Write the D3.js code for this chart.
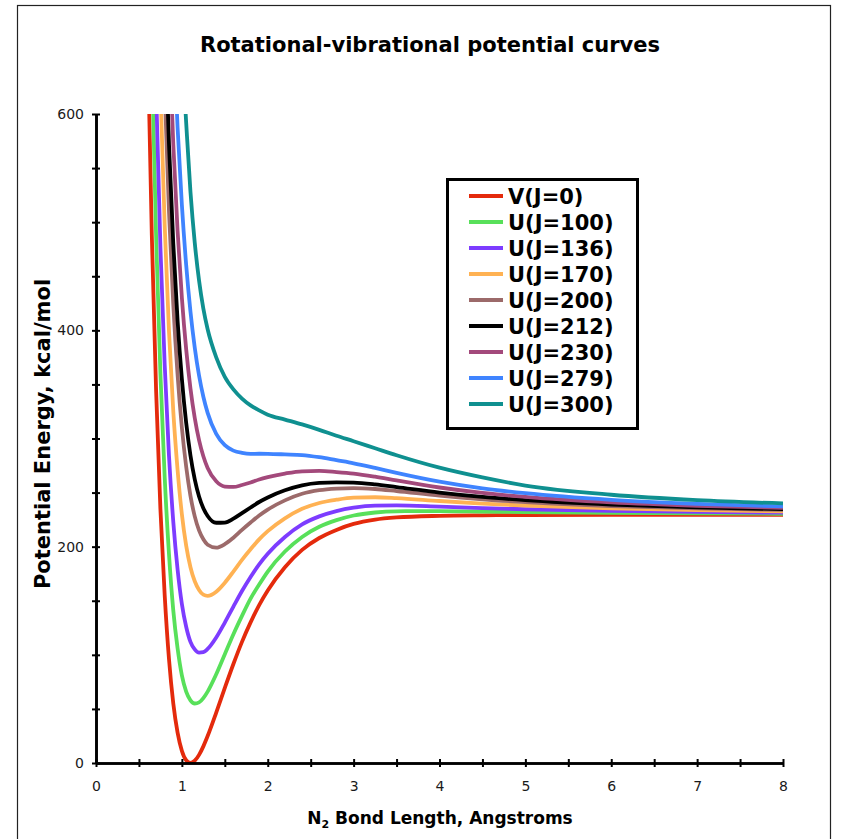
<!DOCTYPE html>
<html lang="en">
<head>
<meta charset="utf-8">
<title>Rotational-vibrational potential curves</title>
<script src="https://d3js.org/d3.v7.min.js"></script>
<style>
  body { margin: 0; background: #fff; }
  svg text { font-family: "DejaVu Sans", Verdana, sans-serif; }
</style>
</head>
<body>
<script>
// bond length grid (Angstroms)
var bondLength = [0.6, 0.65, 0.7, 0.75, 0.8, 0.85, 0.9, 0.95, 1.0, 1.05, 1.1, 1.15, 1.2, 1.25, 1.3,
                  1.4, 1.5, 1.6, 1.7, 1.8, 1.9, 2.0, 2.2, 2.4, 2.6, 2.8, 3.0, 3.25, 3.5, 4.0, 4.5, 5.0, 6.0, 7.0, 8.0];

// potential energy, kcal/mol (null = off the top of the chart)
var vJ0   = [676, 488, 344, 235, 155, 96, 55, 28, 11.2, 2.5, 0, 2.1, 7.5, 15.4, 24.9,
             46.6, 69.4, 91.5, 112, 130, 146, 159.5, 181, 197, 208, 215.5, 221, 225, 227, 228.5, 229, 229.2, 229.3, 229.3, 229.3];
var uJ100 = [null, 654, 487, 360, 264, 193, 141, 106, 81, 66, 58, 55, 56, 60, 66,
             82, 100.5, 119, 136, 152, 165, 177, 195.5, 209, 218.4, 224.5, 228.8, 231.6, 232.7, 232.9, 232.5, 232, 231.2, 230.7, 230.4];
var uJ136 = [null, null, 622, 477, 368, 284, 223, 179, 147, 126, 112, 105, 102, 102.4, 105.4,
             116, 129.8, 144.6, 159, 172, 183.7, 193.5, 209, 220.6, 228, 232.9, 236, 237.9, 238.1, 237, 235.7, 234.6, 233.1, 232.1, 231.4];
var uJ170 = [null, null, null, 624, 497, 399, 325, 271, 230, 201, 181, 168, 160, 155.6, 154.5,
             158.3, 166.7, 177, 187.8, 197.6, 206.7, 214.3, 226.2, 235, 240.4, 243.4, 245.3, 245.7, 244.9, 242.2, 239.8, 238, 235.4, 233.8, 232.7];
var uJ200 = [null, null, null, null, 622, 510, 424, 359, 310, 274, 247, 228, 215, 206.8, 201.8,
             199.1, 202.3, 208.3, 215.5, 222.3, 228.8, 234.3, 242.8, 248.9, 252.2, 253.7, 254.2, 253.3, 251.4, 247.2, 243.8, 241.2, 237.6, 235.4, 234];
var uJ212 = [null, null, null, null, 692, 572, 480, 409, 355, 314.5, 284.3, 262.2, 246.4, 235.6, 228.4,
             222.1, 222.3, 225.9, 231, 236.2, 241.3, 245.5, 252.1, 256.7, 258.9, 259.4, 259.2, 257.6, 255.1, 250, 246, 243, 238.9, 236.3, 234.7];
var uJ230 = [null, null, null, null, null, 676, 572, 492, 430, 382.5, 346.3, 319, 298.5, 283.6, 272.8,
             260.4, 255.6, 255.2, 257, 259.3, 262.1, 264.3, 267.6, 269.7, 270, 269, 267.6, 264.7, 261.2, 254.7, 249.7, 246, 240.9, 237.8, 235.8];
var uJ279 = [null, null, null, null, null, null, 678.5, 587.5, 516, 460.5, 417.3, 384, 358.2, 338.6, 323.7,
             304.3, 293.8, 288.8, 286.7, 285.8, 285.9, 285.8, 285.3, 284.7, 282.7, 279.9, 277.1, 272.8, 268.2, 260.1, 253.9, 249.4, 243.3, 239.6, 237.2];
var uJ300 = [null, null, null, null, null, null, null, null, 661, 592, 528, 481, 446, 420, 401,
             375, 357, 345.4, 336.9, 330.6, 326, 322, 317.5, 313, 308, 302.5, 297.5, 291, 284.5, 273, 264, 256.5, 248, 243, 240];

var seriesNames  = ["V(J=0)", "U(J=100)", "U(J=136)", "U(J=170)", "U(J=200)", "U(J=212)", "U(J=230)", "U(J=279)", "U(J=300)"];
var seriesColors = ["#e42a0c", "#58e05a", "#7d3cff", "#ffb253", "#9c6a6a", "#000000", "#a3497b", "#3f84ff", "#0f9090"];
var seriesValues = [vJ0, uJ100, uJ136, uJ170, uJ200, uJ212, uJ230, uJ279, uJ300];

var xTicks = [0, 0.5, 1, 1.5, 2, 2.5, 3, 3.5, 4, 4.5, 5, 5.5, 6, 6.5, 7, 7.5, 8];
var yTicks = [0, 50, 100, 150, 200, 250, 300, 350, 400, 450, 500, 550, 600];

var w = 844, h = 839;
var plotL = 96, plotR = 783, plotT = 114, plotB = 763;

var svg = d3.select("body").append("svg")
            .attr("width", w)
            .attr("height", h);

// outer frame
svg.append("rect")
   .attr("x", 17.5).attr("y", 5.5)
   .attr("width", 813).attr("height", 860)
   .attr("fill", "none")
   .attr("stroke", "#222")
   .attr("stroke-width", 1.2);

var x = d3.scaleLinear().domain([0, 8]).range([plotL, plotR]);
var y = d3.scaleLinear().domain([0, 600]).range([plotB, plotT]);

svg.append("clipPath").attr("id", "plot")
   .append("rect")
   .attr("x", plotL).attr("y", plotT)
   .attr("width", plotR - plotL).attr("height", plotB - plotT);

var line = d3.line()
             .defined(function(d) { return d[1] != null; })
             .x(function(d) { return x(d[0]); })
             .y(function(d) { return y(d[1]); })
             .curve(d3.curveMonotoneX);

var series = seriesNames.map(function(name, i) {
    return {
        name: name,
        color: seriesColors[i],
        points: bondLength.map(function(r, j) { return [r, seriesValues[i][j]]; })
    };
});

svg.append("g").attr("clip-path", "url(#plot)")
   .selectAll("path")
   .data(series)
   .enter()
   .append("path")
   .attr("d", function(d) { return line(d.points); })
   .attr("fill", "none")
   .attr("stroke", function(d) { return d.color; })
   .attr("stroke-width", 3.8)
   .attr("stroke-linejoin", "round");

// axes, ticks cross the axis line
function styleAxis(g) {
    g.attr("font-size", 14).attr("font-family", "'DejaVu Sans', Verdana, sans-serif");
    g.selectAll("path.domain").attr("stroke", "#000").attr("stroke-width", 2.6);
    g.selectAll(".tick line").attr("stroke", "#000").attr("stroke-width", 2);
    g.selectAll("text").attr("font-size", 14).attr("fill", "#1a1a1a");
}

svg.append("g")
   .attr("transform", "translate(" + plotL + ",0)")
   .call(d3.axisLeft(y).tickValues(yTicks).tickSize(4).tickSizeOuter(0).tickPadding(8)
           .tickFormat(function(d) { return d % 200 === 0 ? d : ""; }))
   .call(styleAxis);
svg.append("g")
   .attr("transform", "translate(" + plotL + ",0)")
   .call(d3.axisRight(y).tickValues(yTicks).tickSize(4).tickSizeOuter(0).tickFormat(""))
   .call(styleAxis);

svg.append("g")
   .attr("transform", "translate(0," + plotB + ")")
   .call(d3.axisBottom(x).tickValues(xTicks).tickSize(4).tickSizeOuter(0).tickPadding(14)
           .tickFormat(function(d) { return d % 1 === 0 ? d : ""; }))
   .call(styleAxis);
svg.append("g")
   .attr("transform", "translate(0," + plotB + ")")
   .call(d3.axisTop(x).tickValues(xTicks).tickSize(4).tickSizeOuter(0).tickFormat(""))
   .call(styleAxis);

// titles
svg.append("text")
   .attr("x", 430).attr("y", 52)
   .attr("text-anchor", "middle")
   .attr("font-size", 21).attr("font-weight", "bold")
   .text("Rotational-vibrational potential curves");

var xt = svg.append("text")
   .attr("x", 440).attr("y", 824)
   .attr("text-anchor", "middle")
   .attr("font-size", 17).attr("font-weight", "bold");
xt.append("tspan").text("N");
xt.append("tspan").attr("dy", 4).attr("font-size", 11).text("2");
xt.append("tspan").attr("dy", -4).text(" Bond Length, Angstroms");

svg.append("text")
   .attr("transform", "translate(50,434) rotate(-90)")
   .attr("text-anchor", "middle")
   .attr("font-size", 21).attr("font-weight", "bold")
   .text("Potential Energy, kcal/mol");

// legend
var legend = svg.append("g");
legend.append("rect")
      .attr("x", 447.5).attr("y", 179.5)
      .attr("width", 190).attr("height", 249)
      .attr("fill", "#fff")
      .attr("stroke", "#000")
      .attr("stroke-width", 3);

var rows = legend.selectAll("g.row")
      .data(series)
      .enter()
      .append("g")
      .attr("class", "row")
      .attr("transform", function(d, i) { return "translate(0," + (196 + i * 26) + ")"; });

rows.append("line")
    .attr("x1", 469).attr("x2", 503)
    .attr("stroke", function(d) { return d.color; })
    .attr("stroke-width", 4);

rows.append("text")
    .attr("x", 508).attr("y", 7.5)
    .attr("font-size", 21).attr("font-weight", "bold")
    .text(function(d) { return d.name; });
</script>
</body>
</html>
